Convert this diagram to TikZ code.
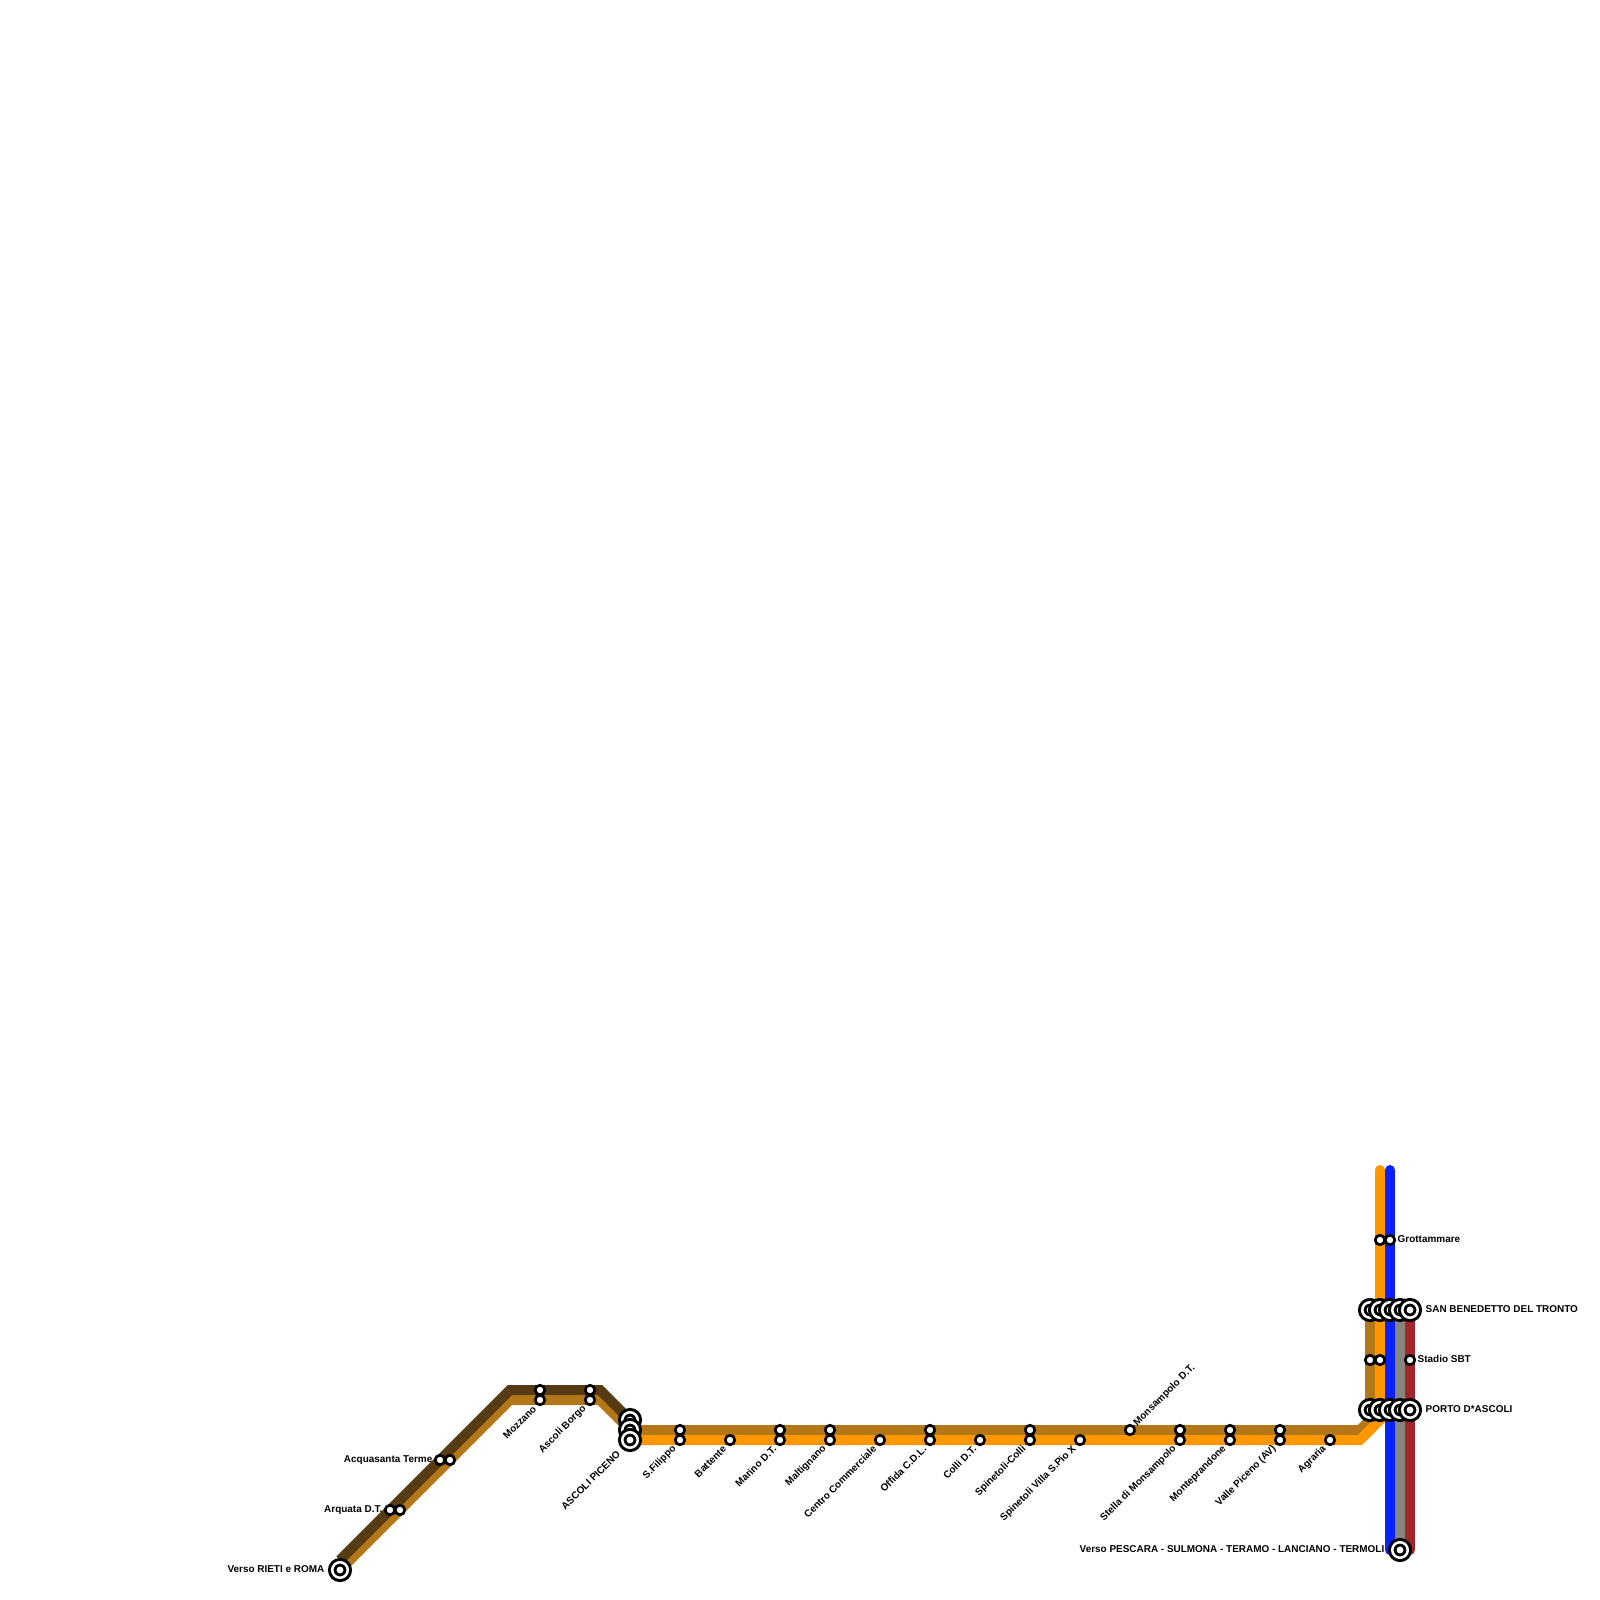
\documentclass[tikz,border=0pt]{standalone}
\usepackage{fontspec}
\setmainfont{Liberation Sans}
\definecolor{darkline}{HTML}{553A12}
\definecolor{brownline}{HTML}{B47718}
\definecolor{orangeline}{HTML}{FF9800}
\definecolor{blueline}{HTML}{0A22FF}
\definecolor{greyline}{HTML}{888480}
\definecolor{redline}{HTML}{A52528}
\tikzset{
  track/.style={line width=0.1cm, line join=miter},
  endtrack/.style={track, line cap=round},
  stop/.style={draw=black, fill=white, circle, inner sep=0pt, minimum size=0.095cm, line width=0.027cm},
  hub/.style={draw=black, fill=white, circle, inner sep=0pt, minimum size=0.155cm, line width=0.03cm, double=white, double distance=0.025cm},
  lab/.style={inner sep=0pt, font=\fontsize{2.83}{3}\selectfont\bfseries, text=black},
}
\begin{document}
\begin{tikzpicture}[x=0.01cm, y=-0.01cm]
\useasboundingbox (0,0) rectangle (1600,1600);

% corners of the tracks
\coordinate (romaD) at (340,1560);
\coordinate (romaB) at (340,1570);
\coordinate (bendD) at (510,1390);
\coordinate (bendB) at (510,1400);
\coordinate (dropD) at (600,1390);
\coordinate (dropB) at (600,1400);
\coordinate (ascD) at (630,1420);
\coordinate (ascB) at (630,1430);
\coordinate (ascO) at (630,1440);
\coordinate (eastB) at (1360,1430);
\coordinate (eastO) at (1360,1440);
\coordinate (portoB) at (1370,1420);
\coordinate (portoO) at (1380,1420);
\coordinate (sbtB) at (1370,1310);
\coordinate (topO) at (1380,1170);
\coordinate (topBl) at (1390,1170);
\coordinate (sbtG) at (1400,1310);
\coordinate (sbtR) at (1410,1310);
\coordinate (endBl) at (1390,1550);
\coordinate (endG) at (1400,1550);
\coordinate (endR) at (1410,1550);

\draw[track, brownline] (romaB) -- (bendB) -- (dropB) -- (ascB) -- (eastB) -- (portoB) -- (sbtB);
\draw[track, darkline] (romaD) -- (bendD) -- (dropD) -- (ascD);
\draw[endtrack, orangeline] (topO) -- (portoO) -- (eastO) -- (ascO);
\draw[endtrack, redline] (sbtR) -- (endR);
\draw[endtrack, blueline] (topBl) -- (endBl);
\draw[track, greyline] (sbtG) -- (endG);

% stops on both tracks, or only one
\foreach \x/\name in {680/S.Filippo, 780/Marino D.T., 830/Maltignano, 930/Offida C.D.L., 1030/Spinetoli-Colli, 1180/Stella di Monsampolo, 1230/Monteprandone, 1280/Valle Piceno (AV)}
{
  \node[stop] (b\x) at (\x,1430) {};
  \node[stop] (o\x) at (\x,1440) {};
  \node[lab, rotate=45, anchor=east] at (\x-5,1447) {\name};
}
\foreach \x/\name in {730/Battente, 880/Centro Commerciale, 980/Colli D.T., 1080/Spinetoli Villa S.Pio X, 1330/Agraria}
{
  \node[stop] (o\x) at (\x,1440) {};
  \node[lab, rotate=45, anchor=east] at (\x-5,1447) {\name};
}
\node[stop] (monsampolo) at (1130,1430) {};
\node[lab, rotate=45, anchor=west] at (1135,1425) {Monsampolo D.T.};

\foreach \x/\name in {540/Mozzano, 590/Ascoli Borgo}
{
  \node[stop] (d\x) at (\x,1390) {};
  \node[stop] (l\x) at (\x,1400) {};
  \node[lab, rotate=45, anchor=east] at (\x-5,1407) {\name};
}
\foreach \y/\x/\name in {1460/440/Acquasanta Terme, 1510/390/Arquata D.T.}
{
  \node[stop] (d\y) at (\x,\y) {};
  \node[stop] (l\y) at (\x+10,\y) {};
  \node[lab, anchor=east] at (\x-7,\y) {\name};
}

\node[hub] (roma) at (romaB) {};
\node[lab, anchor=east] at (325,1569) {Verso RIETI e ROMA};

\foreach \y in {1420,1430,1440}
  \node[hub] (asc\y) at (630,\y) {};
\node[lab, rotate=45, anchor=east] at (619,1452) {ASCOLI PICENO};

\foreach \x in {1370,1380,...,1410}
{
  \node[hub] (sbt\x) at (\x,1310) {};
  \node[hub] (porto\x) at (\x,1410) {};
}
\node[lab, anchor=west] at (1425,1309) {SAN BENEDETTO DEL TRONTO};
\node[lab, anchor=west] at (1425,1409) {PORTO D*ASCOLI};

\node[stop] (grotO) at (1380,1240) {};
\node[stop] (grotBl) at (1390,1240) {};
\node[lab, anchor=west] at (1397,1239) {Grottammare};
\node[stop] (stadB) at (1370,1360) {};
\node[stop] (stadO) at (1380,1360) {};
\node[stop] (stadR) at (1410,1360) {};
\node[lab, anchor=west] at (1417,1359) {Stadio SBT};

\node[hub] (pescara) at (endG) {};
\node[lab, anchor=east] at (1385,1549) {Verso PESCARA - SULMONA - TERAMO - LANCIANO - TERMOLI};
\end{tikzpicture}
\end{document}
